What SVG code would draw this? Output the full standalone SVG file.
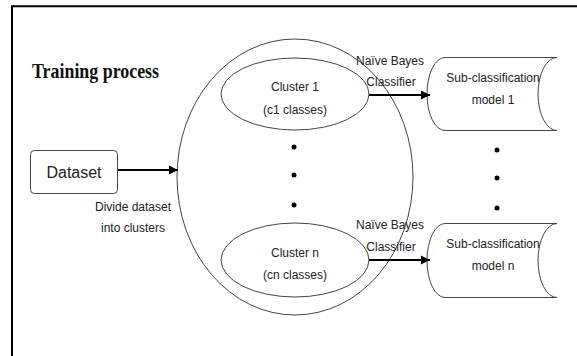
<svg xmlns="http://www.w3.org/2000/svg" width="577" height="356" viewBox="0 0 577 356">
  <defs>
    <marker id="arrowhead" markerWidth="10" markerHeight="10" refX="9" refY="5" orient="auto" markerUnits="userSpaceOnUse">
      <path d="M0,0.5 L9,5 L0,9.5 Z" fill="#000"/>
    </marker>
    <style>
      .frame { stroke: #000; stroke-width: 2; fill: none; }
      .shape { fill: #fff; stroke: #444; stroke-width: 1; }
      .outline { fill: none; stroke: #444; stroke-width: 1; }
      .lbl { font-family: "Liberation Sans", Arial, sans-serif; font-size: 12px; fill: #222; text-anchor: middle; }
      .big { font-size: 16px; }
      .title { font-family: "Liberation Serif", "Times New Roman", serif; font-size: 21px; font-weight: bold; fill: #111; }
      .edge { stroke: #000; stroke-width: 2; fill: none; marker-end: url(#arrowhead); }
      .dot { fill: #000; }
    </style>
  </defs>
  <rect width="577" height="356" fill="#fff"/>

  <!-- page frame: left and top borders -->
  <path class="frame" d="M12,356 L12,6.3 L577,6.3"/>

  <text class="title" x="32" y="78" textLength="127" lengthAdjust="spacingAndGlyphs">Training process</text>

  <!-- enclosing set of clusters -->
  <g id="cluster-set">
    <ellipse class="outline" cx="295" cy="177" rx="118" ry="138"/>
  </g>

  <g id="dataset">
    <rect class="shape" x="30.5" y="150.5" width="87" height="43" rx="4" stroke="#666"/>
    <text class="lbl big" x="74" y="178">Dataset</text>
  </g>

  <g id="cluster-1">
    <ellipse class="shape" cx="295" cy="94" rx="74" ry="36"/>
    <text class="lbl" x="295" y="91">Cluster 1</text>
    <text class="lbl" x="295" y="114">(c1 classes)</text>
  </g>

  <g id="cluster-n">
    <ellipse class="shape" cx="295" cy="260" rx="74" ry="37"/>
    <text class="lbl" x="295" y="257">Cluster n</text>
    <text class="lbl" x="295" y="279">(cn classes)</text>
  </g>

  <g id="cluster-dots">
    <circle class="dot" cx="294" cy="147" r="2.5"/>
    <circle class="dot" cx="294" cy="175" r="2.5"/>
    <circle class="dot" cx="294" cy="205" r="2.5"/>
  </g>

  <g id="model-1">
    <path class="shape" d="M445,57.5 L557,57.5 A19,36.5 0 0 0 557,130.5 L445,130.5 A18,36.5 0 0 1 445,57.5 Z"/>
    <text class="lbl" x="493" y="82">Sub-classification</text>
    <text class="lbl" x="493" y="104">model 1</text>
  </g>

  <g id="model-n">
    <path class="shape" d="M445,223.5 L557,223.5 A19,37 0 0 0 557,297.5 L445,297.5 A18,37 0 0 1 445,223.5 Z"/>
    <text class="lbl" x="493" y="248">Sub-classification</text>
    <text class="lbl" x="493" y="270">model n</text>
  </g>

  <g id="model-dots">
    <circle class="dot" cx="497" cy="150" r="2.5"/>
    <circle class="dot" cx="497" cy="178" r="2.5"/>
    <circle class="dot" cx="497" cy="208" r="2.5"/>
  </g>

  <g id="connectors">
    <line class="edge" x1="118" y1="170" x2="178" y2="170"/>
    <line class="edge" x1="369" y1="95" x2="430" y2="95"/>
    <line class="edge" x1="369" y1="260" x2="430" y2="260"/>
  </g>

  <g id="edge-labels">
    <text class="lbl" x="133" y="211">Divide dataset</text>
    <text class="lbl" x="133" y="232">into clusters</text>
    <text class="lbl" x="390" y="65">Naïve Bayes</text>
    <text class="lbl" x="391" y="86">Classifier</text>
    <text class="lbl" x="390" y="229">Naïve Bayes</text>
    <text class="lbl" x="391" y="251">Classifier</text>
  </g>
</svg>
